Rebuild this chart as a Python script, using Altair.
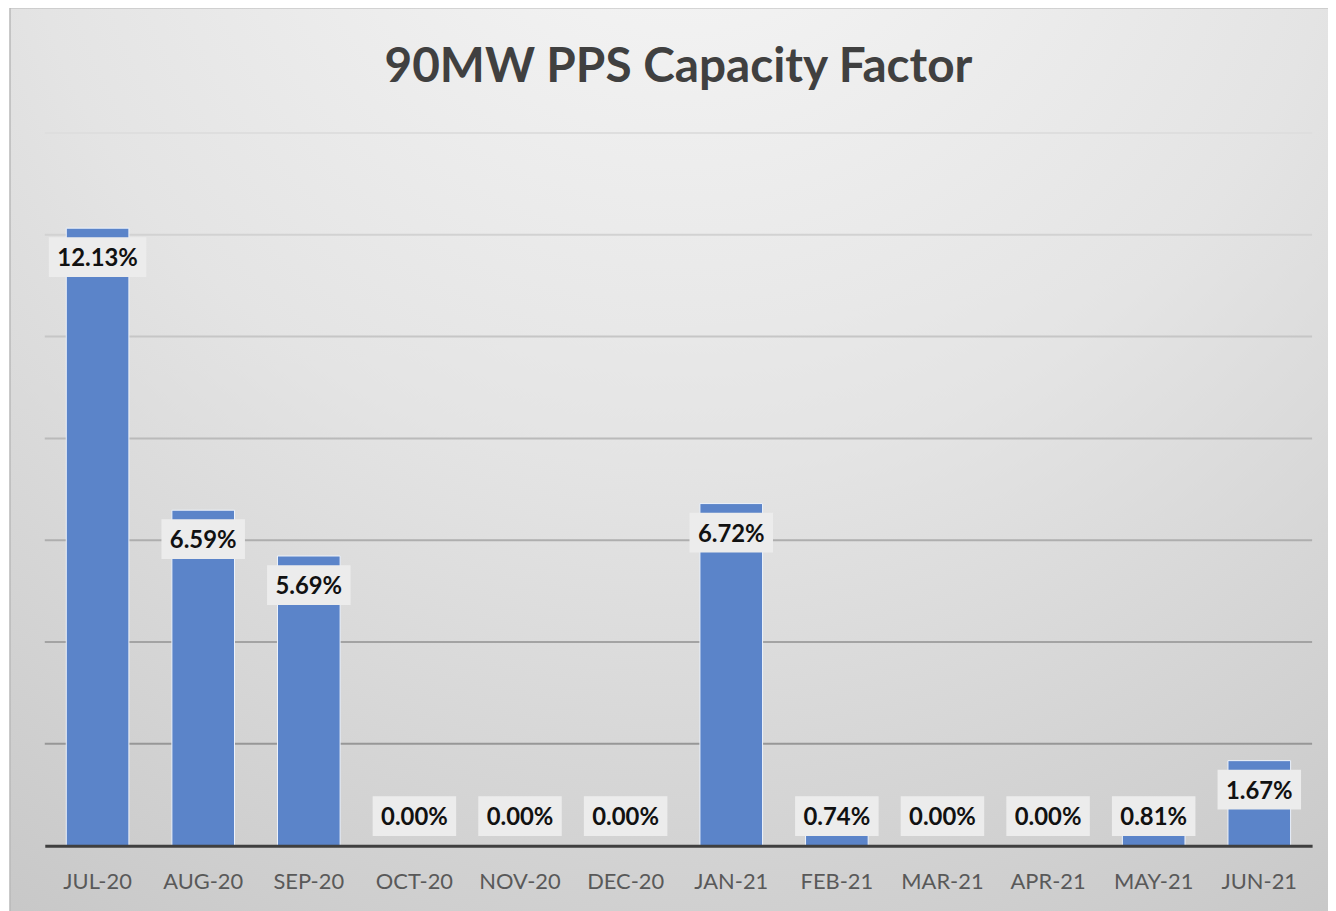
import altair as alt
import pandas as pd

months = ["JUL-20", "AUG-20", "SEP-20", "OCT-20", "NOV-20", "DEC-20",
          "JAN-21", "FEB-21", "MAR-21", "APR-21", "MAY-21", "JUN-21"]
values = [12.13, 6.59, 5.69, 0.00, 0.00, 0.00, 6.72, 0.74, 0.00, 0.00, 0.81, 1.67]
labels = ["12.13%", "6.59%", "5.69%", "0.00%", "0.00%", "0.00%",
          "6.72%", "0.74%", "0.00%", "0.00%", "0.81%", "1.67%"]
grid_values = [2, 4, 6, 8, 10, 12, 14]
title_text = "90MW PPS Capacity Factor"

W, H = 1275, 717

df = pd.DataFrame({"month": months, "value": values, "label": labels})
grid_df = pd.DataFrame({"g": grid_values})
bg_df = pd.DataFrame({"a": [0]})
title_df = pd.DataFrame({"t": [title_text]})

xenc = alt.X(
    "month:N", sort=months,
    scale=alt.Scale(paddingInner=0.407, paddingOuter=0.2035),
    axis=alt.Axis(title=None, labelAngle=0, ticks=False, labelFont="Lato",
                  labelFontSize=22, labelColor="#595959", labelPadding=26,
                  domainColor="#3f3f3f", domainWidth=3, zindex=2),
)
yscale = alt.Scale(domain=[0, 14], nice=False, zero=True)

background = alt.Chart(bg_df).mark_rect(
    fill=alt.RadialGradient(
        gradient="radial",
        stops=[alt.GradientStop(color="#f8f8f8", offset=0),
               alt.GradientStop(color="#e4e4e4", offset=0.5),
               alt.GradientStop(color="#c6c6c6", offset=1)],
        x1=0.5, y1=0.0, r1=0.0, x2=0.5, y2=0.0, r2=1.0),
    stroke="#b8b8b8", strokeWidth=1.5,
).encode(
    x=alt.value(-35), x2=alt.value(W + 40),
    y=alt.value(-126), y2=alt.value(H + 80),
)

title = alt.Chart(title_df).mark_text(
    font="Lato", fontSize=48, fontWeight="bold", color="#404040",
    align="center", baseline="alphabetic",
).encode(x=alt.value(W / 2), y=alt.value(-51), text="t:N")

grid = alt.Chart(grid_df).mark_rule(strokeWidth=2).encode(
    y=alt.Y("g:Q", scale=yscale, axis=None),
    x=alt.value(0), x2=alt.value(W),
    color=alt.Color("g:Q", scale=alt.Scale(domain=[0, 14], range=["#8c8c8c", "#dedede"]),
                    legend=None),
)

base = alt.Chart(df).transform_calculate(
    labely="max(datum.value, 1.15) - 0.57",
    ylo="max(datum.value, 1.15) - 0.96",
    yhi="max(datum.value, 1.15) - 0.18",
)

bars = base.mark_bar(color="#5B84C9", stroke="#eef3fb", strokeWidth=1).encode(
    x=xenc,
    y=alt.Y("value:Q", scale=yscale, axis=None),
)

box_short = base.transform_filter("length(datum.label) <= 5").mark_bar(
    width=84, color="#ececec").encode(
    x=xenc, y=alt.Y("ylo:Q", scale=yscale, axis=None), y2="yhi:Q")

box_long = base.transform_filter("length(datum.label) > 5").mark_bar(
    width=98, color="#ececec").encode(
    x=xenc, y=alt.Y("ylo:Q", scale=yscale, axis=None), y2="yhi:Q")

text = base.mark_text(font="Lato", fontSize=24, fontWeight="bold", color="#111111",
                      baseline="middle", align="center", dy=2).encode(
    x=xenc, y=alt.Y("labely:Q", scale=yscale, axis=None), text="label:N")

chart = alt.layer(background, title, grid, bars, box_short, box_long, text).properties(
    width=W, height=H,
    autosize=alt.AutoSizeParams(type="none"),
    padding={"left": 37, "top": 123, "right": 16, "bottom": 63},
    background="white",
).configure_view(stroke=None)

chart.save("out.html", embed_options={"renderer": "svg", "actions": False})
